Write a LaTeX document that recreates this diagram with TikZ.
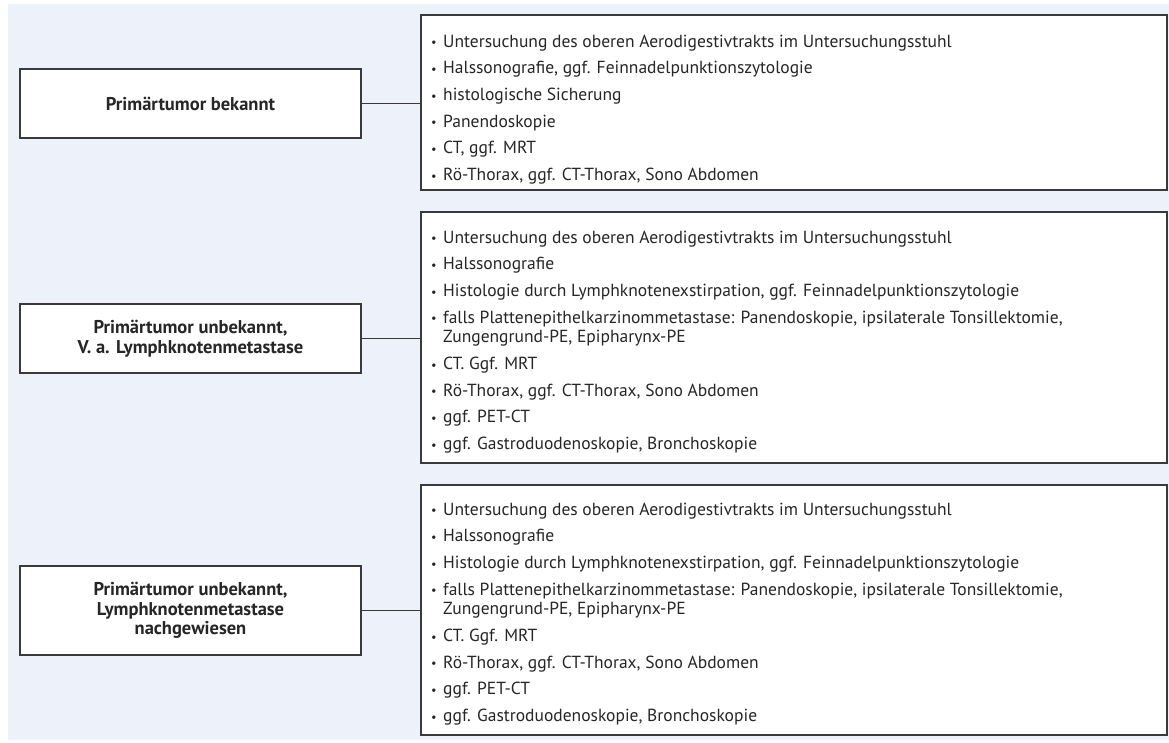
\documentclass[tikz,border=0pt]{standalone}
\usepackage{fontspec}
\usepackage{graphicx}
\setmainfont{PT Sans}
\definecolor{bgc}{HTML}{EDF1F9}
\definecolor{lnc}{HTML}{3A3A3A}
\definecolor{txc}{HTML}{262626}
\newcommand\bl{\makebox[12pt][l]{\raisebox{0.3pt}{\scalebox{0.7}{•}}}}
\newcommand\ind{\hspace*{12pt}}
\tikzset{
  box/.style={draw=lnc, line width=1.6pt, fill=white, inner sep=0pt},
  lefttext/.style={font=\fontsize{18.5}{19.5}\selectfont\bfseries, text=txc, align=center},
  listtext/.style={font=\fontsize{17.5}{26.7}\selectfont, text=txc, align=left, anchor=north west, inner sep=0pt},
  conn/.style={draw=lnc, line width=1.6pt}
}
\begin{document}
\begin{tikzpicture}[x=1pt,y=-1pt]
\useasboundingbox (0,0) rectangle (1169,742);
\fill[white] (0,0) rectangle (1169,742);
\fill[bgc] (8,4) rectangle (1169,740);

% left boxes
\node[box, lefttext, minimum width=341pt, minimum height=69pt] (l1) at (190.5,103.5) {Primärtumor bekannt};
\node[box, lefttext, minimum width=341pt, minimum height=69pt] (l2) at (190.5,338.5) {Primärtumor unbekannt,\\V. a. Lymphknotenmetastase};
\node[box, lefttext, minimum width=341pt, minimum height=89pt] (l3) at (190.5,610.5) {Primärtumor unbekannt,\\Lymphknotenmetastase\\nachgewiesen};

% right boxes
\node[box, minimum width=746pt, minimum height=175pt] (r1) at (794,102.5) {};
\node[box, minimum width=746pt, minimum height=251pt] (r2) at (794,337.5) {};
\node[box, minimum width=746pt, minimum height=250pt] (r3) at (794,610) {};

% connectors
\draw[conn] (l1.east) -- (l1.east -| r1.west);
\draw[conn] (l2.east) -- (l2.east -| r2.west);
\draw[conn] (l3.east) -- (l3.east -| r3.west);

% lists
\node[listtext] (t1) at (431,34.5) {%
\bl Untersuchung des oberen Aerodigestivtrakts im Untersuchungsstuhl\\
\bl Halssonografie, ggf. Feinnadelpunktionszytologie\\
\bl histologische Sicherung\\
\bl Panendoskopie\\
\bl CT, ggf. MRT\\
\bl Rö-Thorax, ggf. CT-Thorax, Sono Abdomen};

\node[listtext] (t2) at (431,230.5) {%
\bl Untersuchung des oberen Aerodigestivtrakts im Untersuchungsstuhl\\
\bl Halssonografie\\
\bl Histologie durch Lymphknotenexstirpation, ggf. Feinnadelpunktionszytologie\\
\bl falls Plattenepithelkarzinommetastase: Panendoskopie, ipsilaterale Tonsillektomie,\\[-7.2pt]
\ind Zungengrund-PE, Epipharynx-PE\\
\bl CT. Ggf. MRT\\
\bl Rö-Thorax, ggf. CT-Thorax, Sono Abdomen\\
\bl ggf. PET-CT\\
\bl ggf. Gastroduodenoskopie, Bronchoskopie};

\node[listtext] (t3) at (431,502.5) {%
\bl Untersuchung des oberen Aerodigestivtrakts im Untersuchungsstuhl\\
\bl Halssonografie\\
\bl Histologie durch Lymphknotenexstirpation, ggf. Feinnadelpunktionszytologie\\
\bl falls Plattenepithelkarzinommetastase: Panendoskopie, ipsilaterale Tonsillektomie,\\[-7.2pt]
\ind Zungengrund-PE, Epipharynx-PE\\
\bl CT. Ggf. MRT\\
\bl Rö-Thorax, ggf. CT-Thorax, Sono Abdomen\\
\bl ggf. PET-CT\\
\bl ggf. Gastroduodenoskopie, Bronchoskopie};
\end{tikzpicture}
\end{document}
